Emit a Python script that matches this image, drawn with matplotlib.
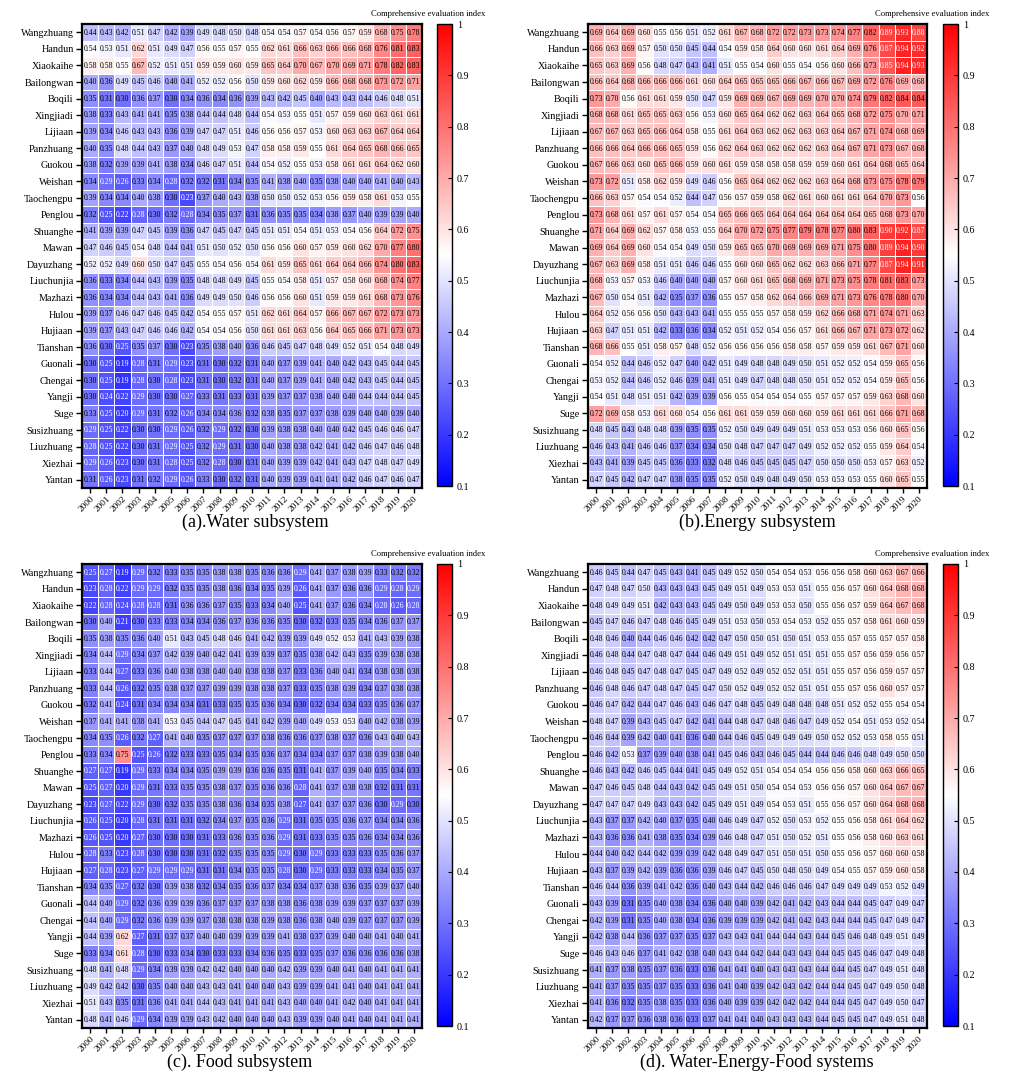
import numpy as np
import matplotlib
matplotlib.use("Agg")
import matplotlib.pyplot as plt
from matplotlib.colors import Normalize
from matplotlib.cm import ScalarMappable

plt.rcParams['font.family'] = ['Liberation Serif', 'DejaVu Serif']

towns = ["Wangzhuang", "Handun", "Xiaokaihe", "Bailongwan", "Boqili", "Xingjiadi",
         "Lijiaan", "Panzhuang", "Guokou", "Weishan", "Taochengpu", "Penglou",
         "Shuanghe", "Mawan", "Dayuzhang", "Liuchunjia", "Mazhazi", "Hulou",
         "Hujiaan", "Tianshan", "Guonali", "Chengai", "Yangji", "Suge",
         "Susizhuang", "Liuzhuang", "Xiezhai", "Yantan"]
years = [str(y) for y in range(2000, 2021)]

water = [
    [0.44, 0.43, 0.42, 0.51, 0.47, 0.42, 0.39, 0.49, 0.48, 0.50, 0.48, 0.54, 0.54, 0.57, 0.54, 0.56, 0.57, 0.59, 0.68, 0.75, 0.78],
    [0.54, 0.53, 0.51, 0.62, 0.51, 0.49, 0.47, 0.56, 0.55, 0.57, 0.55, 0.62, 0.61, 0.66, 0.63, 0.66, 0.66, 0.68, 0.76, 0.81, 0.83],
    [0.58, 0.58, 0.55, 0.67, 0.52, 0.51, 0.51, 0.59, 0.59, 0.60, 0.59, 0.65, 0.64, 0.70, 0.67, 0.70, 0.69, 0.71, 0.78, 0.82, 0.83],
    [0.40, 0.36, 0.49, 0.45, 0.46, 0.40, 0.41, 0.52, 0.52, 0.56, 0.50, 0.59, 0.60, 0.62, 0.59, 0.66, 0.68, 0.68, 0.73, 0.72, 0.71],
    [0.35, 0.31, 0.30, 0.36, 0.37, 0.30, 0.34, 0.36, 0.34, 0.36, 0.39, 0.43, 0.42, 0.45, 0.40, 0.43, 0.43, 0.44, 0.46, 0.48, 0.51],
    [0.38, 0.33, 0.43, 0.41, 0.41, 0.35, 0.38, 0.44, 0.44, 0.48, 0.44, 0.54, 0.53, 0.55, 0.51, 0.57, 0.59, 0.60, 0.63, 0.61, 0.61],
    [0.39, 0.34, 0.46, 0.43, 0.43, 0.36, 0.39, 0.47, 0.47, 0.51, 0.46, 0.56, 0.56, 0.57, 0.53, 0.60, 0.63, 0.63, 0.67, 0.64, 0.64],
    [0.40, 0.35, 0.48, 0.44, 0.43, 0.37, 0.40, 0.48, 0.49, 0.53, 0.47, 0.58, 0.58, 0.59, 0.55, 0.61, 0.64, 0.65, 0.68, 0.66, 0.65],
    [0.38, 0.32, 0.39, 0.39, 0.41, 0.38, 0.34, 0.46, 0.47, 0.51, 0.44, 0.54, 0.52, 0.55, 0.53, 0.58, 0.61, 0.61, 0.64, 0.62, 0.60],
    [0.34, 0.29, 0.26, 0.33, 0.34, 0.28, 0.32, 0.32, 0.31, 0.34, 0.35, 0.41, 0.38, 0.40, 0.35, 0.38, 0.40, 0.40, 0.41, 0.40, 0.43],
    [0.39, 0.34, 0.34, 0.40, 0.38, 0.30, 0.23, 0.37, 0.40, 0.43, 0.38, 0.50, 0.50, 0.52, 0.53, 0.56, 0.59, 0.58, 0.61, 0.53, 0.55],
    [0.32, 0.25, 0.22, 0.28, 0.30, 0.32, 0.28, 0.34, 0.35, 0.37, 0.31, 0.36, 0.35, 0.35, 0.34, 0.38, 0.37, 0.40, 0.39, 0.39, 0.40],
    [0.41, 0.39, 0.39, 0.47, 0.45, 0.39, 0.36, 0.47, 0.45, 0.47, 0.45, 0.51, 0.51, 0.54, 0.51, 0.53, 0.54, 0.56, 0.64, 0.72, 0.75],
    [0.47, 0.46, 0.45, 0.54, 0.48, 0.44, 0.41, 0.51, 0.50, 0.52, 0.50, 0.56, 0.56, 0.60, 0.57, 0.59, 0.60, 0.62, 0.70, 0.77, 0.80],
    [0.52, 0.52, 0.49, 0.60, 0.50, 0.47, 0.45, 0.55, 0.54, 0.56, 0.54, 0.61, 0.59, 0.65, 0.61, 0.64, 0.64, 0.66, 0.74, 0.80, 0.83],
    [0.36, 0.33, 0.34, 0.44, 0.43, 0.39, 0.35, 0.48, 0.48, 0.49, 0.45, 0.55, 0.54, 0.58, 0.51, 0.57, 0.58, 0.60, 0.68, 0.74, 0.77],
    [0.36, 0.34, 0.34, 0.44, 0.43, 0.41, 0.36, 0.49, 0.49, 0.50, 0.46, 0.56, 0.56, 0.60, 0.51, 0.59, 0.59, 0.61, 0.68, 0.73, 0.76],
    [0.39, 0.37, 0.46, 0.47, 0.46, 0.45, 0.42, 0.54, 0.55, 0.57, 0.51, 0.62, 0.61, 0.64, 0.57, 0.66, 0.67, 0.67, 0.72, 0.73, 0.73],
    [0.39, 0.37, 0.43, 0.47, 0.46, 0.46, 0.42, 0.54, 0.54, 0.56, 0.50, 0.61, 0.61, 0.63, 0.56, 0.64, 0.65, 0.66, 0.71, 0.73, 0.73],
    [0.36, 0.30, 0.25, 0.35, 0.37, 0.30, 0.23, 0.35, 0.38, 0.40, 0.36, 0.46, 0.45, 0.47, 0.48, 0.49, 0.52, 0.51, 0.54, 0.48, 0.49],
    [0.30, 0.25, 0.19, 0.28, 0.31, 0.29, 0.23, 0.31, 0.30, 0.32, 0.31, 0.40, 0.37, 0.39, 0.41, 0.40, 0.42, 0.43, 0.45, 0.44, 0.45],
    [0.30, 0.25, 0.19, 0.28, 0.30, 0.28, 0.23, 0.31, 0.30, 0.32, 0.31, 0.40, 0.37, 0.39, 0.41, 0.40, 0.42, 0.43, 0.45, 0.44, 0.45],
    [0.30, 0.24, 0.22, 0.29, 0.30, 0.30, 0.27, 0.33, 0.31, 0.33, 0.31, 0.39, 0.37, 0.37, 0.38, 0.40, 0.40, 0.44, 0.44, 0.44, 0.45],
    [0.33, 0.25, 0.20, 0.29, 0.31, 0.32, 0.26, 0.34, 0.34, 0.36, 0.32, 0.38, 0.35, 0.37, 0.37, 0.38, 0.39, 0.40, 0.40, 0.39, 0.40],
    [0.29, 0.25, 0.22, 0.30, 0.30, 0.29, 0.26, 0.32, 0.29, 0.32, 0.30, 0.39, 0.38, 0.38, 0.40, 0.40, 0.42, 0.45, 0.46, 0.46, 0.47],
    [0.28, 0.25, 0.22, 0.30, 0.31, 0.29, 0.25, 0.32, 0.29, 0.31, 0.30, 0.40, 0.38, 0.38, 0.42, 0.41, 0.42, 0.46, 0.47, 0.46, 0.48],
    [0.29, 0.26, 0.23, 0.30, 0.31, 0.28, 0.25, 0.32, 0.28, 0.30, 0.31, 0.40, 0.39, 0.39, 0.42, 0.41, 0.43, 0.47, 0.48, 0.47, 0.49],
    [0.31, 0.26, 0.23, 0.31, 0.32, 0.29, 0.26, 0.33, 0.30, 0.32, 0.31, 0.40, 0.39, 0.39, 0.41, 0.41, 0.42, 0.46, 0.47, 0.46, 0.47],
]

energy = [
    [0.69, 0.64, 0.69, 0.60, 0.55, 0.56, 0.51, 0.52, 0.61, 0.67, 0.68, 0.72, 0.72, 0.73, 0.73, 0.74, 0.77, 0.82, 0.89, 0.93, 0.88],
    [0.66, 0.63, 0.69, 0.57, 0.50, 0.50, 0.45, 0.44, 0.54, 0.59, 0.58, 0.64, 0.60, 0.60, 0.61, 0.64, 0.69, 0.76, 0.87, 0.94, 0.92],
    [0.65, 0.63, 0.69, 0.56, 0.48, 0.47, 0.43, 0.41, 0.51, 0.55, 0.54, 0.60, 0.55, 0.54, 0.56, 0.60, 0.66, 0.73, 0.85, 0.94, 0.93],
    [0.66, 0.64, 0.68, 0.66, 0.66, 0.66, 0.61, 0.60, 0.64, 0.65, 0.65, 0.65, 0.66, 0.67, 0.66, 0.67, 0.69, 0.72, 0.76, 0.69, 0.68],
    [0.73, 0.70, 0.56, 0.61, 0.61, 0.59, 0.50, 0.47, 0.59, 0.69, 0.69, 0.67, 0.69, 0.69, 0.70, 0.70, 0.74, 0.79, 0.82, 0.84, 0.84],
    [0.68, 0.68, 0.61, 0.65, 0.65, 0.63, 0.56, 0.53, 0.60, 0.65, 0.64, 0.62, 0.62, 0.63, 0.64, 0.65, 0.68, 0.72, 0.75, 0.70, 0.71],
    [0.67, 0.67, 0.63, 0.65, 0.66, 0.64, 0.58, 0.55, 0.61, 0.64, 0.63, 0.62, 0.62, 0.63, 0.63, 0.64, 0.67, 0.71, 0.74, 0.68, 0.69],
    [0.66, 0.66, 0.64, 0.66, 0.66, 0.65, 0.59, 0.56, 0.62, 0.64, 0.63, 0.62, 0.62, 0.62, 0.63, 0.64, 0.67, 0.71, 0.73, 0.67, 0.68],
    [0.67, 0.66, 0.63, 0.60, 0.65, 0.66, 0.59, 0.60, 0.61, 0.59, 0.58, 0.58, 0.58, 0.59, 0.59, 0.60, 0.61, 0.64, 0.68, 0.65, 0.64],
    [0.73, 0.72, 0.51, 0.58, 0.62, 0.59, 0.49, 0.46, 0.56, 0.65, 0.64, 0.62, 0.62, 0.62, 0.63, 0.64, 0.68, 0.73, 0.75, 0.78, 0.79],
    [0.66, 0.63, 0.57, 0.54, 0.54, 0.52, 0.44, 0.47, 0.56, 0.57, 0.59, 0.58, 0.62, 0.61, 0.60, 0.61, 0.61, 0.64, 0.70, 0.73, 0.56],
    [0.73, 0.68, 0.61, 0.57, 0.61, 0.57, 0.54, 0.54, 0.65, 0.66, 0.65, 0.64, 0.64, 0.64, 0.64, 0.64, 0.64, 0.65, 0.68, 0.73, 0.70],
    [0.71, 0.64, 0.69, 0.62, 0.57, 0.58, 0.53, 0.55, 0.64, 0.70, 0.72, 0.75, 0.77, 0.79, 0.78, 0.77, 0.80, 0.83, 0.90, 0.92, 0.87],
    [0.69, 0.64, 0.69, 0.60, 0.54, 0.54, 0.49, 0.50, 0.59, 0.65, 0.65, 0.70, 0.69, 0.69, 0.69, 0.71, 0.75, 0.80, 0.89, 0.94, 0.90],
    [0.67, 0.63, 0.69, 0.58, 0.51, 0.51, 0.46, 0.46, 0.55, 0.60, 0.60, 0.65, 0.62, 0.62, 0.63, 0.66, 0.71, 0.77, 0.87, 0.94, 0.91],
    [0.68, 0.53, 0.57, 0.53, 0.46, 0.40, 0.40, 0.40, 0.57, 0.60, 0.61, 0.65, 0.68, 0.69, 0.71, 0.73, 0.75, 0.78, 0.81, 0.83, 0.73],
    [0.67, 0.50, 0.54, 0.51, 0.42, 0.35, 0.37, 0.36, 0.55, 0.57, 0.58, 0.62, 0.64, 0.66, 0.69, 0.71, 0.73, 0.76, 0.78, 0.80, 0.70],
    [0.64, 0.52, 0.56, 0.56, 0.50, 0.43, 0.43, 0.41, 0.55, 0.55, 0.55, 0.57, 0.58, 0.59, 0.62, 0.66, 0.68, 0.71, 0.74, 0.71, 0.63],
    [0.63, 0.47, 0.51, 0.51, 0.42, 0.33, 0.36, 0.34, 0.52, 0.51, 0.52, 0.54, 0.56, 0.57, 0.61, 0.66, 0.67, 0.71, 0.73, 0.72, 0.62],
    [0.68, 0.66, 0.55, 0.51, 0.58, 0.57, 0.48, 0.52, 0.56, 0.56, 0.56, 0.56, 0.58, 0.58, 0.57, 0.59, 0.59, 0.61, 0.67, 0.71, 0.60],
    [0.54, 0.52, 0.44, 0.46, 0.52, 0.47, 0.40, 0.42, 0.51, 0.49, 0.48, 0.48, 0.49, 0.50, 0.51, 0.52, 0.52, 0.54, 0.59, 0.65, 0.56],
    [0.53, 0.52, 0.44, 0.46, 0.52, 0.46, 0.39, 0.41, 0.51, 0.49, 0.47, 0.48, 0.48, 0.50, 0.51, 0.52, 0.52, 0.54, 0.59, 0.65, 0.56],
    [0.54, 0.51, 0.48, 0.51, 0.51, 0.42, 0.39, 0.39, 0.56, 0.55, 0.54, 0.54, 0.54, 0.55, 0.57, 0.57, 0.57, 0.59, 0.63, 0.68, 0.60],
    [0.72, 0.69, 0.58, 0.53, 0.61, 0.60, 0.54, 0.56, 0.61, 0.61, 0.59, 0.59, 0.60, 0.60, 0.59, 0.61, 0.61, 0.61, 0.66, 0.71, 0.68],
    [0.48, 0.45, 0.43, 0.48, 0.48, 0.39, 0.35, 0.35, 0.52, 0.50, 0.49, 0.49, 0.49, 0.51, 0.53, 0.53, 0.53, 0.56, 0.60, 0.65, 0.56],
    [0.46, 0.43, 0.41, 0.46, 0.46, 0.37, 0.34, 0.34, 0.50, 0.48, 0.47, 0.47, 0.47, 0.49, 0.52, 0.52, 0.52, 0.55, 0.59, 0.64, 0.54],
    [0.43, 0.41, 0.39, 0.45, 0.45, 0.36, 0.33, 0.32, 0.48, 0.46, 0.45, 0.45, 0.45, 0.47, 0.50, 0.50, 0.50, 0.53, 0.57, 0.63, 0.52],
    [0.47, 0.45, 0.42, 0.47, 0.47, 0.38, 0.35, 0.35, 0.52, 0.50, 0.49, 0.48, 0.49, 0.50, 0.53, 0.53, 0.53, 0.55, 0.60, 0.65, 0.55],
]

food = [
    [0.25, 0.27, 0.19, 0.29, 0.32, 0.33, 0.35, 0.35, 0.38, 0.38, 0.35, 0.36, 0.36, 0.29, 0.41, 0.37, 0.38, 0.39, 0.33, 0.32, 0.32],
    [0.23, 0.28, 0.22, 0.29, 0.29, 0.32, 0.35, 0.35, 0.38, 0.36, 0.34, 0.35, 0.39, 0.26, 0.41, 0.37, 0.36, 0.36, 0.29, 0.28, 0.29],
    [0.22, 0.28, 0.24, 0.28, 0.28, 0.31, 0.36, 0.36, 0.37, 0.35, 0.33, 0.34, 0.40, 0.25, 0.41, 0.37, 0.36, 0.34, 0.28, 0.26, 0.28],
    [0.30, 0.40, 0.21, 0.30, 0.33, 0.33, 0.34, 0.34, 0.36, 0.37, 0.36, 0.36, 0.35, 0.30, 0.32, 0.33, 0.35, 0.34, 0.36, 0.37, 0.37],
    [0.35, 0.38, 0.35, 0.36, 0.40, 0.51, 0.43, 0.45, 0.48, 0.46, 0.41, 0.42, 0.39, 0.39, 0.49, 0.52, 0.53, 0.41, 0.43, 0.39, 0.38],
    [0.34, 0.44, 0.29, 0.34, 0.37, 0.42, 0.39, 0.40, 0.42, 0.41, 0.39, 0.39, 0.37, 0.35, 0.38, 0.42, 0.43, 0.35, 0.39, 0.38, 0.38],
    [0.33, 0.44, 0.27, 0.33, 0.36, 0.40, 0.38, 0.38, 0.40, 0.40, 0.38, 0.38, 0.37, 0.33, 0.36, 0.40, 0.41, 0.34, 0.38, 0.38, 0.38],
    [0.33, 0.44, 0.26, 0.32, 0.35, 0.38, 0.37, 0.37, 0.39, 0.39, 0.38, 0.38, 0.37, 0.33, 0.35, 0.38, 0.39, 0.34, 0.37, 0.38, 0.38],
    [0.32, 0.41, 0.24, 0.31, 0.34, 0.34, 0.34, 0.31, 0.33, 0.35, 0.35, 0.36, 0.34, 0.30, 0.32, 0.34, 0.34, 0.33, 0.35, 0.36, 0.37],
    [0.37, 0.41, 0.41, 0.38, 0.41, 0.53, 0.45, 0.44, 0.47, 0.45, 0.41, 0.42, 0.39, 0.40, 0.49, 0.53, 0.53, 0.40, 0.42, 0.38, 0.39],
    [0.34, 0.35, 0.26, 0.32, 0.27, 0.41, 0.40, 0.35, 0.37, 0.37, 0.37, 0.38, 0.36, 0.36, 0.37, 0.38, 0.37, 0.36, 0.43, 0.40, 0.43],
    [0.33, 0.34, 0.75, 0.25, 0.26, 0.32, 0.33, 0.33, 0.35, 0.34, 0.35, 0.36, 0.37, 0.34, 0.34, 0.37, 0.37, 0.38, 0.39, 0.38, 0.40],
    [0.27, 0.27, 0.19, 0.29, 0.33, 0.34, 0.34, 0.35, 0.39, 0.39, 0.36, 0.36, 0.35, 0.31, 0.41, 0.37, 0.39, 0.40, 0.35, 0.34, 0.33],
    [0.25, 0.27, 0.20, 0.29, 0.31, 0.33, 0.35, 0.35, 0.38, 0.37, 0.35, 0.36, 0.36, 0.28, 0.41, 0.37, 0.38, 0.38, 0.32, 0.31, 0.31],
    [0.23, 0.27, 0.22, 0.29, 0.30, 0.32, 0.35, 0.35, 0.38, 0.36, 0.34, 0.35, 0.38, 0.27, 0.41, 0.37, 0.37, 0.36, 0.30, 0.29, 0.30],
    [0.26, 0.25, 0.20, 0.28, 0.31, 0.31, 0.31, 0.32, 0.34, 0.37, 0.35, 0.36, 0.29, 0.31, 0.35, 0.35, 0.36, 0.37, 0.34, 0.34, 0.36],
    [0.26, 0.25, 0.20, 0.27, 0.30, 0.30, 0.30, 0.31, 0.33, 0.36, 0.35, 0.36, 0.29, 0.31, 0.33, 0.35, 0.35, 0.36, 0.34, 0.34, 0.36],
    [0.28, 0.33, 0.23, 0.28, 0.30, 0.30, 0.30, 0.31, 0.32, 0.35, 0.35, 0.35, 0.29, 0.30, 0.29, 0.33, 0.33, 0.33, 0.35, 0.36, 0.37],
    [0.27, 0.28, 0.23, 0.27, 0.29, 0.29, 0.29, 0.31, 0.31, 0.34, 0.35, 0.35, 0.28, 0.30, 0.29, 0.33, 0.33, 0.33, 0.34, 0.35, 0.37],
    [0.34, 0.35, 0.27, 0.32, 0.30, 0.39, 0.38, 0.32, 0.34, 0.35, 0.36, 0.37, 0.34, 0.34, 0.37, 0.38, 0.36, 0.35, 0.39, 0.37, 0.40],
    [0.44, 0.40, 0.29, 0.32, 0.36, 0.39, 0.39, 0.36, 0.37, 0.37, 0.37, 0.38, 0.38, 0.36, 0.38, 0.39, 0.39, 0.37, 0.37, 0.37, 0.39],
    [0.44, 0.40, 0.29, 0.32, 0.36, 0.39, 0.39, 0.37, 0.38, 0.38, 0.38, 0.39, 0.38, 0.36, 0.38, 0.40, 0.39, 0.37, 0.37, 0.37, 0.39],
    [0.44, 0.39, 0.62, 0.27, 0.31, 0.37, 0.37, 0.40, 0.40, 0.39, 0.39, 0.39, 0.41, 0.38, 0.37, 0.39, 0.40, 0.40, 0.41, 0.40, 0.41],
    [0.33, 0.34, 0.61, 0.28, 0.30, 0.33, 0.34, 0.30, 0.33, 0.33, 0.34, 0.36, 0.35, 0.33, 0.35, 0.37, 0.36, 0.36, 0.36, 0.36, 0.38],
    [0.48, 0.41, 0.48, 0.29, 0.34, 0.39, 0.39, 0.42, 0.42, 0.40, 0.40, 0.40, 0.42, 0.39, 0.39, 0.40, 0.41, 0.40, 0.41, 0.41, 0.41],
    [0.49, 0.42, 0.42, 0.30, 0.35, 0.40, 0.40, 0.43, 0.43, 0.41, 0.40, 0.40, 0.43, 0.39, 0.39, 0.41, 0.41, 0.40, 0.41, 0.41, 0.41],
    [0.51, 0.43, 0.35, 0.31, 0.36, 0.41, 0.41, 0.44, 0.43, 0.41, 0.41, 0.41, 0.43, 0.40, 0.40, 0.41, 0.42, 0.40, 0.41, 0.41, 0.41],
    [0.48, 0.41, 0.46, 0.29, 0.34, 0.39, 0.39, 0.43, 0.42, 0.40, 0.40, 0.40, 0.43, 0.39, 0.39, 0.40, 0.41, 0.40, 0.41, 0.41, 0.41],
]

wef = [
    [0.46, 0.45, 0.44, 0.47, 0.45, 0.43, 0.41, 0.45, 0.49, 0.52, 0.50, 0.54, 0.54, 0.53, 0.56, 0.56, 0.58, 0.60, 0.63, 0.67, 0.66],
    [0.47, 0.48, 0.47, 0.50, 0.43, 0.43, 0.43, 0.45, 0.49, 0.51, 0.49, 0.53, 0.53, 0.51, 0.55, 0.56, 0.57, 0.60, 0.64, 0.68, 0.68],
    [0.48, 0.49, 0.49, 0.51, 0.42, 0.43, 0.43, 0.45, 0.49, 0.50, 0.49, 0.53, 0.53, 0.50, 0.55, 0.56, 0.57, 0.59, 0.64, 0.67, 0.68],
    [0.45, 0.47, 0.46, 0.47, 0.48, 0.46, 0.45, 0.49, 0.51, 0.53, 0.50, 0.53, 0.54, 0.53, 0.52, 0.55, 0.57, 0.58, 0.61, 0.60, 0.59],
    [0.48, 0.46, 0.40, 0.44, 0.46, 0.46, 0.42, 0.42, 0.47, 0.50, 0.50, 0.51, 0.50, 0.51, 0.53, 0.55, 0.57, 0.55, 0.57, 0.57, 0.58],
    [0.46, 0.48, 0.44, 0.47, 0.48, 0.47, 0.44, 0.46, 0.49, 0.51, 0.49, 0.52, 0.51, 0.51, 0.51, 0.55, 0.57, 0.56, 0.59, 0.56, 0.57],
    [0.46, 0.48, 0.45, 0.47, 0.48, 0.47, 0.45, 0.47, 0.49, 0.52, 0.49, 0.52, 0.52, 0.51, 0.51, 0.55, 0.57, 0.56, 0.59, 0.57, 0.57],
    [0.46, 0.48, 0.46, 0.47, 0.48, 0.47, 0.45, 0.47, 0.50, 0.52, 0.49, 0.52, 0.52, 0.51, 0.51, 0.55, 0.57, 0.56, 0.60, 0.57, 0.57],
    [0.46, 0.47, 0.42, 0.44, 0.47, 0.46, 0.43, 0.46, 0.47, 0.48, 0.45, 0.49, 0.48, 0.48, 0.48, 0.51, 0.52, 0.52, 0.55, 0.54, 0.54],
    [0.48, 0.47, 0.39, 0.43, 0.45, 0.47, 0.42, 0.41, 0.44, 0.48, 0.47, 0.48, 0.46, 0.47, 0.49, 0.52, 0.54, 0.51, 0.53, 0.52, 0.54],
    [0.46, 0.44, 0.39, 0.42, 0.40, 0.41, 0.36, 0.40, 0.44, 0.46, 0.45, 0.49, 0.49, 0.49, 0.50, 0.52, 0.52, 0.53, 0.58, 0.55, 0.51],
    [0.46, 0.42, 0.53, 0.37, 0.39, 0.40, 0.38, 0.41, 0.45, 0.46, 0.43, 0.46, 0.45, 0.44, 0.44, 0.46, 0.46, 0.48, 0.49, 0.50, 0.50],
    [0.46, 0.43, 0.42, 0.46, 0.45, 0.44, 0.41, 0.45, 0.49, 0.52, 0.51, 0.54, 0.54, 0.54, 0.56, 0.56, 0.58, 0.60, 0.63, 0.66, 0.65],
    [0.47, 0.46, 0.45, 0.48, 0.44, 0.43, 0.42, 0.45, 0.49, 0.51, 0.50, 0.54, 0.54, 0.53, 0.56, 0.56, 0.57, 0.60, 0.64, 0.67, 0.67],
    [0.47, 0.47, 0.47, 0.49, 0.43, 0.43, 0.42, 0.45, 0.49, 0.51, 0.49, 0.54, 0.53, 0.51, 0.55, 0.56, 0.57, 0.60, 0.64, 0.68, 0.68],
    [0.43, 0.37, 0.37, 0.42, 0.40, 0.37, 0.35, 0.40, 0.46, 0.49, 0.47, 0.52, 0.50, 0.53, 0.52, 0.55, 0.56, 0.58, 0.61, 0.64, 0.62],
    [0.43, 0.36, 0.36, 0.41, 0.38, 0.35, 0.34, 0.39, 0.46, 0.48, 0.47, 0.51, 0.50, 0.52, 0.51, 0.55, 0.56, 0.58, 0.60, 0.63, 0.61],
    [0.44, 0.40, 0.42, 0.44, 0.42, 0.39, 0.39, 0.42, 0.48, 0.49, 0.47, 0.51, 0.50, 0.51, 0.50, 0.55, 0.56, 0.57, 0.60, 0.60, 0.58],
    [0.43, 0.37, 0.39, 0.42, 0.39, 0.36, 0.36, 0.39, 0.46, 0.47, 0.45, 0.50, 0.48, 0.50, 0.49, 0.54, 0.55, 0.57, 0.59, 0.60, 0.58],
    [0.46, 0.44, 0.36, 0.39, 0.41, 0.42, 0.36, 0.40, 0.43, 0.44, 0.42, 0.46, 0.46, 0.46, 0.47, 0.49, 0.49, 0.49, 0.53, 0.52, 0.49],
    [0.43, 0.39, 0.31, 0.35, 0.40, 0.38, 0.34, 0.36, 0.40, 0.40, 0.39, 0.42, 0.41, 0.42, 0.43, 0.44, 0.44, 0.45, 0.47, 0.49, 0.47],
    [0.42, 0.39, 0.31, 0.35, 0.40, 0.38, 0.34, 0.36, 0.39, 0.39, 0.39, 0.42, 0.41, 0.42, 0.43, 0.44, 0.44, 0.45, 0.47, 0.49, 0.47],
    [0.42, 0.38, 0.44, 0.36, 0.37, 0.37, 0.35, 0.37, 0.43, 0.43, 0.41, 0.44, 0.44, 0.43, 0.44, 0.45, 0.46, 0.48, 0.49, 0.51, 0.49],
    [0.46, 0.43, 0.46, 0.37, 0.41, 0.42, 0.38, 0.40, 0.43, 0.44, 0.42, 0.44, 0.43, 0.43, 0.44, 0.45, 0.45, 0.46, 0.47, 0.49, 0.48],
    [0.41, 0.37, 0.38, 0.35, 0.37, 0.36, 0.33, 0.36, 0.41, 0.41, 0.40, 0.43, 0.43, 0.43, 0.44, 0.44, 0.45, 0.47, 0.49, 0.51, 0.48],
    [0.41, 0.37, 0.35, 0.35, 0.37, 0.35, 0.33, 0.36, 0.41, 0.40, 0.39, 0.42, 0.43, 0.42, 0.44, 0.44, 0.45, 0.47, 0.49, 0.50, 0.48],
    [0.41, 0.36, 0.32, 0.35, 0.38, 0.35, 0.33, 0.36, 0.40, 0.39, 0.39, 0.42, 0.42, 0.42, 0.44, 0.44, 0.45, 0.47, 0.49, 0.50, 0.47],
    [0.42, 0.37, 0.37, 0.36, 0.38, 0.36, 0.33, 0.37, 0.41, 0.41, 0.40, 0.43, 0.43, 0.43, 0.44, 0.45, 0.45, 0.47, 0.49, 0.51, 0.48],
]

cbar_ticks = [0.1, 0.2, 0.3, 0.4, 0.5, 0.6, 0.7, 0.8, 0.9, 1.0]
cbar_ticklabels = ["0.1", "0.2", "0.3", "0.4", "0.5", "0.6", "0.7", "0.8", "0.9", "1"]

W, H = 1027, 1084
fig = plt.figure(figsize=(W / 100, H / 100), dpi=100)
fig.patch.set_facecolor("white")


def px_axes(left, top, right, bottom):
    return fig.add_axes([left / W, 1 - bottom / H, (right - left) / W, (bottom - top) / H])


cmap = plt.get_cmap("bwr")
norm = Normalize(vmin=0.1, vmax=1.0)


def draw_panel(data, hm_box, cb_box, caption, cap_x, cap_y, title_x, title_y):
    arr = np.array(data)
    nr, nc = arr.shape
    ax = px_axes(*hm_box)
    ax.pcolormesh(np.arange(nc + 1), np.arange(nr + 1), arr, cmap=cmap, norm=norm,
                  edgecolors="white", linewidth=0.5)
    ax.set_xlim(0, nc)
    ax.set_ylim(nr, 0)
    for i in range(nr):
        for j in range(nc):
            v = arr[i, j]
            col = "white" if (v < 0.295 or v >= 0.845) else "black"
            ax.text(j + 0.5, i + 0.52, f"{v:.2f}", ha="center", va="center",
                    fontsize=5.6, color=col)
    ax.set_yticks(np.arange(nr) + 0.5)
    ax.set_yticklabels(towns, fontsize=7.3)
    ax.set_xticks(np.arange(nc) + 0.5)
    ax.set_xticklabels(years, fontsize=6.7, rotation=45, ha="right", va="top",
                       rotation_mode="anchor")
    ax.tick_params(axis="y", length=4, width=1.0, pad=2)
    ax.tick_params(axis="x", length=3.5, width=1.0, pad=1)
    for s in ax.spines.values():
        s.set_linewidth(1.6)

    cax = px_axes(*cb_box)
    cb = fig.colorbar(ScalarMappable(norm=norm, cmap=cmap), cax=cax)
    cb.set_ticks(cbar_ticks)
    cb.set_ticklabels(cbar_ticklabels)
    cb.ax.tick_params(labelsize=7.3, length=3, width=0.8, direction="in")
    cb.outline.set_linewidth(1.0)
    fig.text(title_x / W, 1 - title_y / H, "Comprehensive evaluation index",
             ha="center", va="center", fontsize=6.2)

    fig.text(cap_x / W, 1 - cap_y / H, caption, ha="center", va="center", fontsize=13)


draw_panel(water, (82, 24, 422, 488), (437, 24, 452, 486),
           "(a).Water subsystem", 255, 522, 428, 14)
draw_panel(energy, (588, 24, 927, 488), (943, 24, 958, 486),
           "(b).Energy subsystem", 757, 522, 932, 14)
draw_panel(food, (82, 564, 422, 1028), (437, 564, 452, 1026),
           "(c). Food subsystem", 240, 1062, 428, 554)
draw_panel(wef, (588, 564, 927, 1028), (943, 564, 958, 1026),
           "(d). Water-Energy-Food systems", 757, 1062, 932, 554)

fig.savefig("out.png", dpi=100, facecolor="white")
